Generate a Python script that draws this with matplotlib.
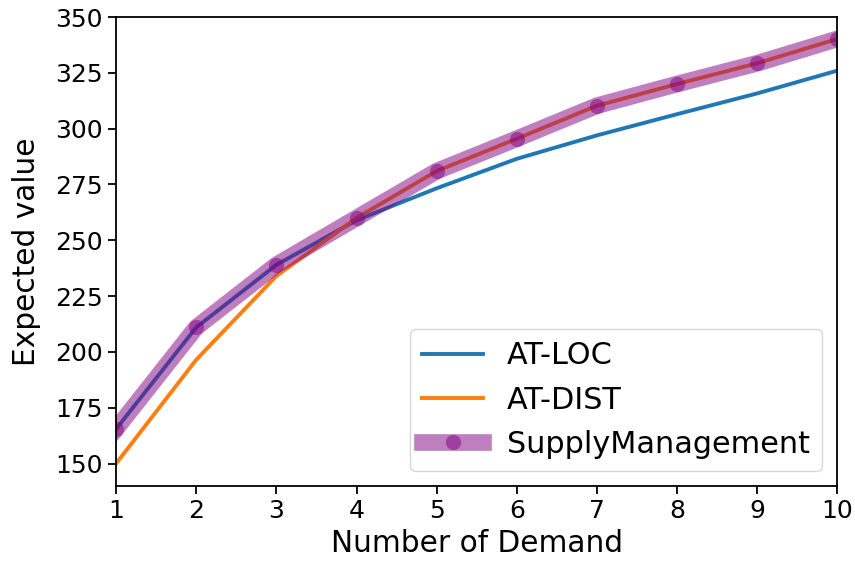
import matplotlib
matplotlib.use("Agg")
import matplotlib.pyplot as plt

demand = [1, 2, 3, 4, 5, 6, 7, 8, 9, 10]
at_loc = [165.5, 211.0, 239.0, 259.0, 273.3, 286.5, 297.0, 306.5, 315.8, 326.0]
at_dist = [150.0, 196.5, 234.0, 260.0, 281.0, 295.5, 310.3, 320.0, 329.3, 340.2]
supply_mgmt = [165.5, 211.0, 239.0, 260.0, 281.0, 295.5, 310.3, 320.0, 329.3, 340.2]
yticks = [150, 175, 200, 225, 250, 275, 300, 325, 350]

fig = plt.figure(figsize=(8.55, 5.63), dpi=100)
ax = fig.add_axes([0.1357, 0.1368, 0.9795 - 0.1357, 0.9698 - 0.1368])

ax.plot(demand, at_loc, color="#1f77b4", lw=2.8, label="AT-LOC")
ax.plot(demand, at_dist, color="#ff7f0e", lw=2.8, label="AT-DIST")
ax.plot(demand, supply_mgmt, color="purple", lw=12, alpha=0.5, marker="o",
        markersize=11, markeredgewidth=0, label="SupplyManagement")

ax.set_xlim(1, 10)
ax.set_ylim(140, 350)
ax.set_xticks(demand)
ax.set_yticks(yticks)
ax.tick_params(labelsize=18, length=6, width=1.3)
for s in ax.spines.values():
    s.set_linewidth(1.3)
ax.set_xlabel("Number of Demand", fontsize=21.3, labelpad=4)
ax.set_ylabel("Expected value", fontsize=21.3, labelpad=10)
ax.legend(loc="lower right", fontsize=21.8, handlelength=2.0)

fig.savefig("out.png", dpi=100)
